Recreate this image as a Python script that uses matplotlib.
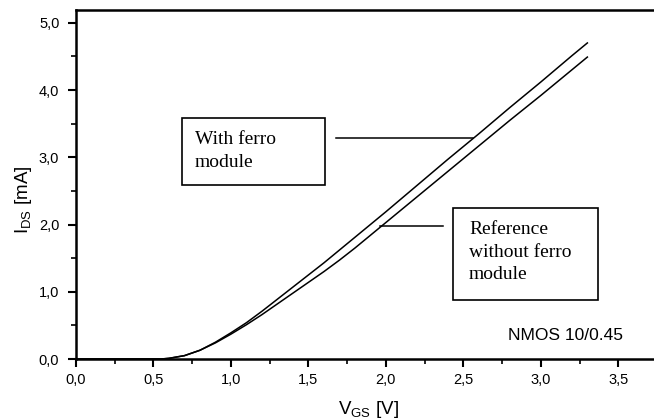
import matplotlib
matplotlib.use("Agg")
import matplotlib.pyplot as plt
from matplotlib.patches import Rectangle
from matplotlib.ticker import MultipleLocator

plt.rcParams['font.family'] = ['Liberation Sans', 'DejaVu Sans']
plt.rcParams['mathtext.default'] = 'regular'

# Data
vgs = [0.0, 0.5, 0.55, 0.6, 0.7, 0.8, 0.9, 1.0, 1.1, 1.2, 1.3, 1.4, 1.5, 1.6, 1.7,
       1.8, 2.0, 2.2, 2.4, 2.6, 2.8, 3.0, 3.2, 3.3]
ids_ferro = [0.0, 0.0, 0.0, 0.01, 0.05, 0.13, 0.25, 0.39, 0.54, 0.71, 0.89, 1.07,
             1.25, 1.43, 1.62, 1.81, 2.19, 2.58, 2.97, 3.35, 3.74, 4.12, 4.51, 4.70]
ids_ref = [0.0, 0.0, 0.0, 0.01, 0.05, 0.13, 0.24, 0.37, 0.51, 0.66, 0.82, 0.98,
           1.14, 1.30, 1.47, 1.65, 2.03, 2.41, 2.79, 3.17, 3.55, 3.92, 4.30, 4.49]

xticks = [0.0, 0.5, 1.0, 1.5, 2.0, 2.5, 3.0, 3.5]
xticklabels = ['0,0', '0,5', '1,0', '1,5', '2,0', '2,5', '3,0', '3,5']
yticks = [0.0, 1.0, 2.0, 3.0, 4.0, 5.0]
yticklabels = ['0,0', '1,0', '2,0', '3,0', '4,0', '5,0']

label_ferro = "With ferro\nmodule"
label_ref = "Reference\nwithout ferro\nmodule"
device = "NMOS 10/0.45"

W, H = 654, 419
fig = plt.figure(figsize=(W / 100, H / 100), dpi=100)
ax = fig.add_axes([76 / W, 60 / H, (W - 76) / W, 349 / H])

ax.plot(vgs, ids_ferro, color='black', lw=1.1)
ax.plot(vgs, ids_ref, color='black', lw=1.1)

ax.set_xlim(0, 3.73)
ax.set_ylim(0, 5.19)
ax.set_xticks(xticks)
ax.set_xticklabels(xticklabels)
ax.set_yticks(yticks)
ax.set_yticklabels(yticklabels)
ax.xaxis.set_minor_locator(MultipleLocator(0.25))
ax.yaxis.set_minor_locator(MultipleLocator(0.5))
ax.tick_params(which='major', direction='out', length=6, width=1.5, labelsize=10.5)
ax.tick_params(axis='x', which='major', pad=4)
ax.tick_params(axis='y', which='major', pad=6)
ax.tick_params(which='minor', direction='out', length=3.5, width=1.2)
ax.tick_params(top=False, right=False, which='both')
ax.spines['right'].set_visible(False)
for s in ['left', 'bottom', 'top']:
    ax.spines[s].set_linewidth(1.8)

ax.set_xlabel('V$_{GS}$ [V]', fontsize=13.5)
ax.xaxis.set_label_coords((368 - 76) / (W - 76), -(399 - 359) / 349)
ax.set_ylabel('I$_{DS}$ [mA]', fontsize=13.5)
ax.yaxis.set_label_coords(-(76 - 34) / (W - 76), (359 - 200) / 349)

# leader lines
ax.plot([1.68, 2.56], [3.29, 3.29], color='black', lw=1.1)
ax.plot([1.96, 2.37], [1.98, 1.98], color='black', lw=1.1)

# boxes
fig.patches.append(Rectangle((182 / W, 1 - 185 / H), (325 - 182) / W, (185 - 118) / H,
                             transform=fig.transFigure, fill=False, lw=1.2, ec='black'))
fig.patches.append(Rectangle((453 / W, 1 - 300 / H), (598 - 453) / W, (300 - 208) / H,
                             transform=fig.transFigure, fill=False, lw=1.2, ec='black'))
fig.text(195 / W, 1 - 151 / H, label_ferro, family='Liberation Serif', fontsize=14,
         va='center', ha='left', linespacing=1.4)
fig.text(469 / W, 1 - 252 / H, label_ref, family='Liberation Serif', fontsize=14,
         va='center', ha='left', linespacing=1.4)
fig.text(508 / W, 1 - 335 / H, device, fontsize=12.5, va='center', ha='left')

fig.savefig('out.png', dpi=100)
